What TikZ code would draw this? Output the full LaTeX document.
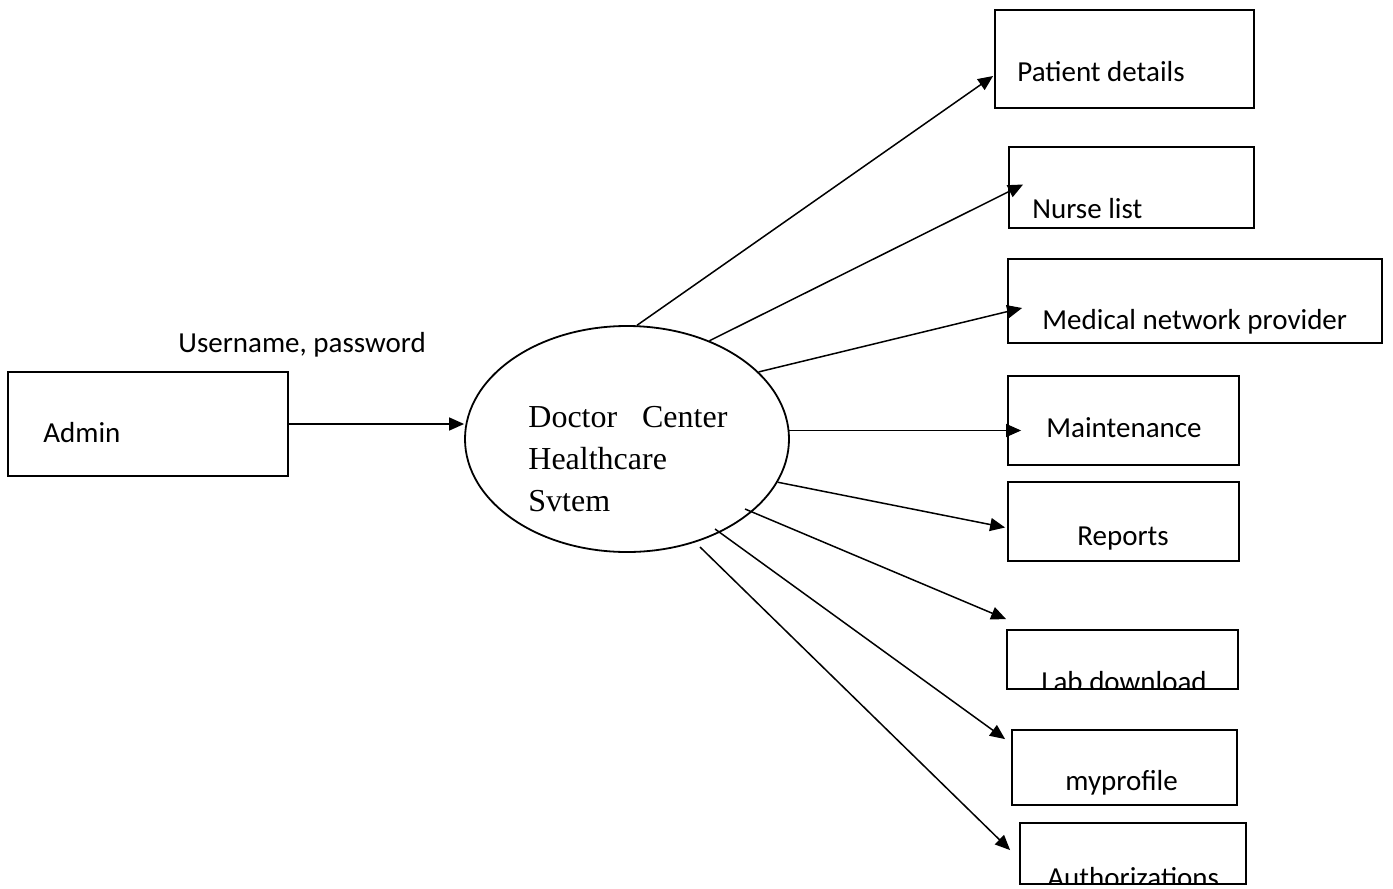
\documentclass[tikz,border=0pt]{standalone}
\usepackage{fontspec}
\setmainfont{Liberation Serif}
\newfontfamily\carlito{Carlito}
\usetikzlibrary{shapes.geometric, arrows.meta, calc}

\begin{document}
\begin{tikzpicture}[
    x=0.5pt, y=-0.5pt,
    box/.style={rectangle, draw, line width=0.9pt, inner sep=0pt},
    txt/.style={anchor=base west, inner sep=0pt,
                font=\carlito\fontsize{14.5}{17}\selectfont},
    flow/.style={-{Triangle[length=7.5pt, width=6.5pt]}, line width=0.75pt},
]

% Page and margins
\fill[white] (0,0) rectangle (1393,889);
\useasboundingbox (0,0) rectangle (1393,889);

% Admin
\node[box, minimum width=140pt, minimum height=52pt] (admin) at (148,424) {};
\node[txt] (admintxt) at (43,442) {Admin};
\node[txt] (cred) at (178,352) {Username, password};

% Central process
\node[ellipse, draw, line width=0.9pt, inner sep=0pt,
      minimum width=162pt, minimum height=113pt] (dcs) at (627,439) {};
\node[anchor=north west, inner sep=0pt, text width=99.5pt, align=left,
      font=\fontsize{16}{21}\selectfont] (dcstxt) at ($(dcs.center)+(-99,-33)$)
      {\hbox to 99.5pt{Doctor\hfill Center}\\Healthcare\\Svtem};

% Outputs
\node[box, minimum width=129.5pt, minimum height=49pt] (pat) at (1124.5,59) {};
\node[txt] (pattxt) at (1017,81) {Patient details};

\node[box, minimum width=122.5pt, minimum height=40.5pt] (nurse) at (1131.5,187.5) {};
\node[txt] (nursetxt) at (1032,218) {Nurse list};

\node[box, minimum width=187pt, minimum height=42pt] (medprov) at (1195,301) {};
\node[txt] (medprovtxt) at (1042,329) {Medical network provider};

\node[box, minimum width=115.5pt, minimum height=44.5pt] (maint) at (1123.5,420.5) {};
\node[txt] (mainttxt) at (1046,437) {Maintenance};

\node[box, minimum width=115.5pt, minimum height=39.5pt] (rep) at (1123.5,521.5) {};
\node[txt] (reptxt) at (1077,545) {Reports};

\node[box, minimum width=115.5pt, minimum height=29.5pt] (lab) at (1122.5,659.5) {};
\begin{scope}
  \clip (lab.south west) rectangle (lab.north east);
  \node[txt] (labtxt) at (1041,691) {Lab download};
\end{scope}

\node[box, minimum width=112.5pt, minimum height=37.5pt] (prof) at (1124.5,767.5) {};
\node[txt] (proftxt) at (1065,790) {myprofile};

\node[box, minimum width=113pt, minimum height=30.5pt] (auth) at (1133,853.5) {};
\begin{scope}
  \clip (auth.south west) rectangle (auth.north east);
  \node[txt] (authtxt) at (1047,887) {Authorizations};
\end{scope}

% Flows
\draw[flow] (admin.east) -- (admin.east -| dcs.west);
\draw[flow] (dcs.85) -- ($(pat.west)+(-1,17)$);
\draw[flow] (dcs.50) -- ($(nurse.west)+(15,-3)$);
\draw[flow] (dcs.27.4) -- ($(medprov.west)+(15,7)$);
\draw[flow] (dcs.3.5) -- ($(dcs.3.5 -| maint.west)+(14,0)$);
\draw[flow] (dcs.344) -- ($(rep.west)+(-2,6)$);
\draw[flow] ($(dcs.center)+(118,70)$) -- ($(lab.north west)+(0,-10)$);
\draw[flow] ($(dcs.center)+(88,90)$) -- ($(prof.north west)+(-6,10)$);
\draw[flow] ($(dcs.center)+(73,108)$) -- ($(auth.north west)+(-9,28)$);

\end{tikzpicture}
\end{document}
